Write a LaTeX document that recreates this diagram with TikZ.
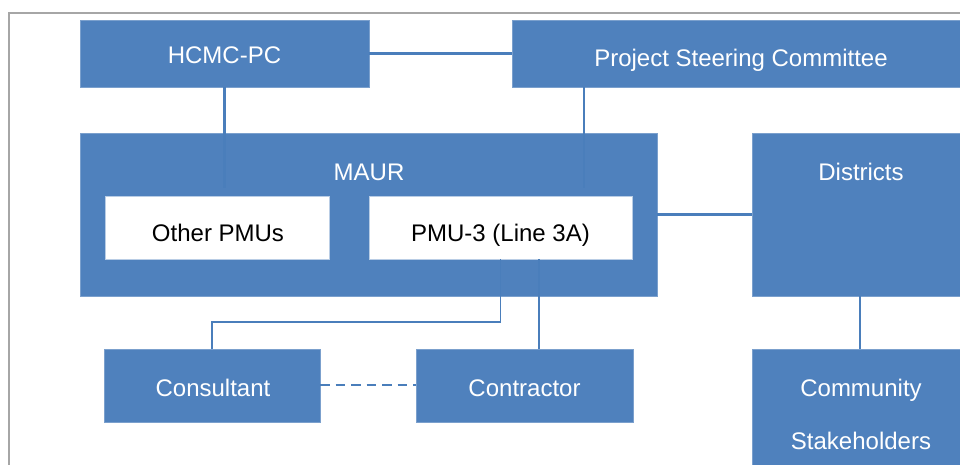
\documentclass[tikz,border=0pt]{standalone}
\usepackage{fontspec}
\setmainfont{Liberation Sans}
\definecolor{boxblue}{HTML}{4F81BD}
\definecolor{lineblue}{HTML}{4A7EBB}
\definecolor{framegray}{HTML}{A6A6A6}
\begin{document}
\begin{tikzpicture}[x=1pt,y=-1pt,
  box/.style={rectangle,fill=boxblue,draw=boxblue!75!white,line width=0.6pt,inner sep=0pt,outer sep=0pt,anchor=north west},
  whitebox/.style={rectangle,fill=white,draw=boxblue!40!white,line width=0.6pt,inner sep=0pt,outer sep=0pt,anchor=north west},
  lbl/.style={anchor=base,inner sep=0pt,text=white,font=\fontsize{24}{28}\selectfont},
  dlbl/.style={anchor=base,inner sep=0pt,text=black,font=\fontsize{24}{28}\selectfont},
  thickconn/.style={draw=lineblue,line width=2.6pt},
  thinconn/.style={draw=lineblue,line width=1.6pt},
  dashedconn/.style={draw=lineblue,line width=2.2pt,dash pattern=on 9.5pt off 6pt}]
\clip (0,0) rectangle (960,464);
\useasboundingbox (0,0) rectangle (960,464);
\fill[white] (0,0) rectangle (960,464);
% frame
\draw[framegray,line width=1.5pt] (9,480) -- (9,13) -- (980,13);
% boxes
\node[box,minimum width=289pt,minimum height=67pt] (hcmc) at (80,20) {};
\node[box,minimum width=458pt,minimum height=67pt] (psc) at (512,20) {};
\node[box,minimum width=577pt,minimum height=163pt] (maur) at (80,133) {};
\node[whitebox,minimum width=224pt,minimum height=63pt] (other) at (105,196) {};
\node[whitebox,minimum width=263pt,minimum height=63pt] (pmu) at (369,196) {};
\node[box,minimum width=218pt,minimum height=163pt] (districts) at (752,133) {};
\node[box,minimum width=216pt,minimum height=73pt] (consultant) at (104,349) {};
\node[box,minimum width=217pt,minimum height=73pt] (contractor) at (416,349) {};
\node[box,minimum width=218pt,minimum height=130pt] (community) at (752,349) {};
% labels
\node[lbl] (thcmc) at (224.5,63) {HCMC-PC};
\node[lbl] (tpsc) at (741,66.5) {Project Steering Committee};
\node[lbl] (tmaur) at (369,180) {MAUR};
\node[dlbl] (tother) at (218,241) {Other PMUs};
\node[dlbl] (tpmu) at (500.5,241) {PMU-3 (Line 3A)};
\node[lbl] (tdistricts) at (861,180) {Districts};
\node[lbl] (tconsultant) at (213,396) {Consultant};
\node[lbl] (tcontractor) at (524.5,396) {Contractor};
\node[lbl] (tcommunity) at (861,396) {Community};
\node[lbl] (tstake) at (861,449) {Stakeholders};
% connectors
\coordinate (hcmcend) at (224.5,188);
\coordinate (pscend) at (584,188);
\draw[thickconn] (hcmc.east) -- (psc.west);
\draw[thickconn] (hcmc.south) -- (hcmcend);
\draw[thickconn] (pscend |- psc.south) -- (pscend);
\draw[thickconn] (maur.east) -- (districts.west);
\draw[thickconn] ([xshift=-1pt]districts.south) -- ([xshift=-1pt]community.north);
\draw[thinconn] (pmu.south) -- (pmu.south |- 0,322) -| (consultant.north);
\draw[thinconn] ([xshift=38.5pt]pmu.south) -- ([xshift=38.5pt]pmu.south |- contractor.north);
\draw[dashedconn] ([yshift=0.5pt]consultant.east) -- ([yshift=0.5pt]contractor.west);
\end{tikzpicture}
\end{document}
